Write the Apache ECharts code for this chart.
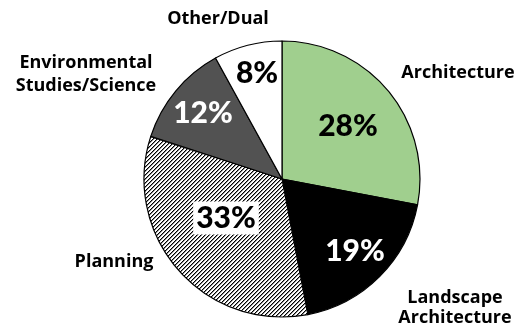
<!DOCTYPE html>
<html>
<head>
<meta charset="utf-8">
<script src="https://cdn.jsdelivr.net/npm/echarts@6/dist/echarts.min.js"></script>
<style>
  html, body { margin: 0; padding: 0; background: #ffffff; }
  #chart { width: 519px; height: 330px; }
</style>
</head>
<body>
<div id="chart"></div>
<script>
// Degree programs, share of respondents (%)
const categories = ['Architecture', 'Landscape Architecture', 'Planning', 'Environmental Studies/Science', 'Other/Dual'];
const shares = [28, 19, 33, 12, 8];
const nameLabels = ['Architecture', 'Landscape\nArchitecture', 'Planning', 'Environmental\nStudies/Science', 'Other/Dual'];

// Label placement (text centres, px) and line spacing of the name labels
const valueLabelPos = [[348, 126], [355, 251], [226, 218], [203, 113], [257, 73]];
const nameLabelPos = [[458, 73], [455, 308], [114, 262], [86, 74], [218, 19]];
const nameLineHeights = [22, 20, 22, 23, 22];

// Diagonal hatch tile for the Planning slice: one dark stair-step line per 4px
function hatchPattern() {
  const c = document.createElement('canvas');
  c.width = 4; c.height = 4;
  const g = c.getContext('2d');
  g.fillStyle = '#ffffff';
  g.fillRect(0, 0, 4, 4);
  for (let y = 0; y < 4; y++) {
    const x = 3 - y;
    g.fillStyle = '#000000';
    g.fillRect(x, y, 1, 1);
    g.fillStyle = '#8a8a8a';
    g.fillRect((x + 1) % 4, y, 1, 1);
  }
  return c;
}

const fills = ['#a0cf8e', '#000000', { image: hatchPattern(), repeat: 'repeat' }, '#525252', '#ffffff'];
const valueColors = ['#000000', '#ffffff', '#000000', '#ffffff', '#000000'];

const valueFont = 'Lato, "Open Sans", sans-serif';
const nameFont = '"Open Sans", Lato, sans-serif';

const chart = echarts.init(document.getElementById('chart'));
chart.setOption({
  animation: false,
  series: [
    {
      type: 'pie',
      center: [282, 179],
      radius: [0, 138],
      startAngle: 90,
      clockwise: true,
      silent: true,
      itemStyle: { borderColor: '#000000', borderWidth: 1.2 },
      label: {
        position: 'inside',
        formatter: '{c}%',
        fontFamily: valueFont,
        fontWeight: 900,
        fontSize: 30
      },
      labelLine: { show: false },
      labelLayout: function (p) {
        const pos = valueLabelPos[p.dataIndex];
        return { x: pos[0], y: pos[1], align: 'center', verticalAlign: 'middle' };
      },
      data: categories.map(function (n, i) {
        const d = {
          name: n,
          value: shares[i],
          itemStyle: { color: fills[i] },
          label: { color: valueColors[i] }
        };
        if (i === 2) {
          d.label.backgroundColor = '#ffffff';
          d.label.padding = [2, 3, 1, 3];
        }
        return d;
      })
    },
    {
      type: 'pie',
      center: [282, 179],
      radius: [0, 138],
      startAngle: 90,
      clockwise: true,
      silent: true,
      itemStyle: { color: 'rgba(0,0,0,0)', borderWidth: 0 },
      label: {
        position: 'outside',
        formatter: function (p) { return nameLabels[p.dataIndex]; },
        fontFamily: nameFont,
        fontWeight: 'bold',
        fontSize: 18,
        color: '#000000',
        align: 'center',
        overflow: 'none',
        width: 220
      },
      labelLine: { show: false },
      labelLayout: function (p) {
        const pos = nameLabelPos[p.dataIndex];
        return { x: pos[0], y: pos[1], align: 'center', verticalAlign: 'middle' };
      },
      data: categories.map(function (n, i) {
        return { name: n, value: shares[i], label: { lineHeight: nameLineHeights[i] } };
      })
    }
  ]
});
</script>
</body>
</html>
